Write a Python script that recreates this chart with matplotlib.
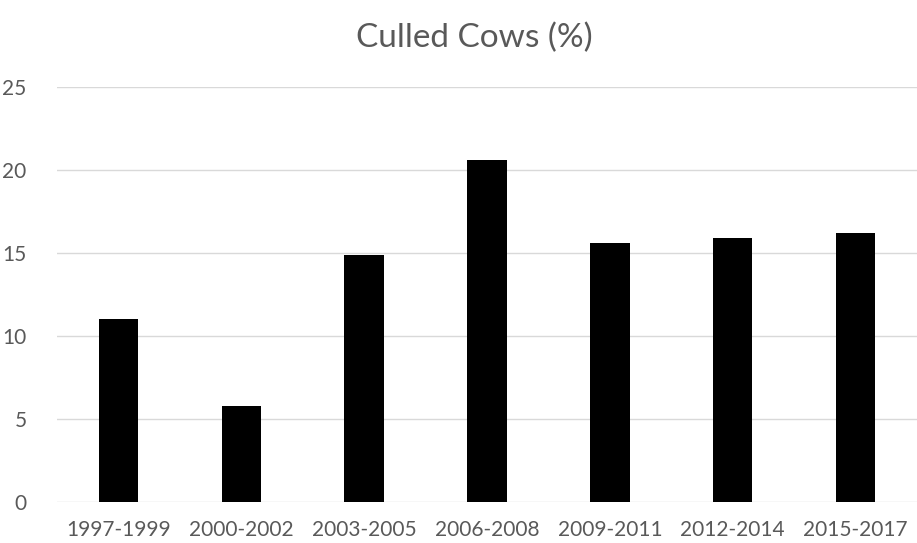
import matplotlib
matplotlib.use("Agg")
import matplotlib.pyplot as plt

periods = ["1997-1999", "2000-2002", "2003-2005", "2006-2008",
           "2009-2011", "2012-2014", "2015-2017"]
culled = [11.0, 5.8, 14.9, 20.6, 15.6, 15.9, 16.2]
yticks = [0, 5, 10, 15, 20, 25]

plt.rcParams["font.family"] = ["Lato", "DejaVu Sans"]
grey = "#595959"

fig = plt.figure(figsize=(9.17, 5.43), dpi=100)
ax = fig.add_axes([57 / 917, 1 - 502 / 543, 860 / 917, (502 - 87) / 543])

x = range(len(periods))
ax.bar(x, culled, width=0.32, color="black", zorder=3)

ax.set_xlim(-0.5, len(periods) - 0.5)
ax.set_ylim(0, 25)
ax.set_yticks(yticks)
ax.set_xticks(list(x))
ax.set_xticklabels(periods)
ax.grid(axis="y", color="#d9d9d9", linewidth=1, zorder=0)
for s in ax.spines.values():
    s.set_visible(False)
ax.tick_params(length=0, colors=grey, labelsize=15)
ax.tick_params(axis="x", pad=13)
ax.tick_params(axis="y", pad=22)

fig.text(474 / 917, 1 - 38 / 543, "Culled Cows (%)", ha="center", va="center",
         fontsize=24, color=grey)

fig.savefig("out.png", dpi=100)
